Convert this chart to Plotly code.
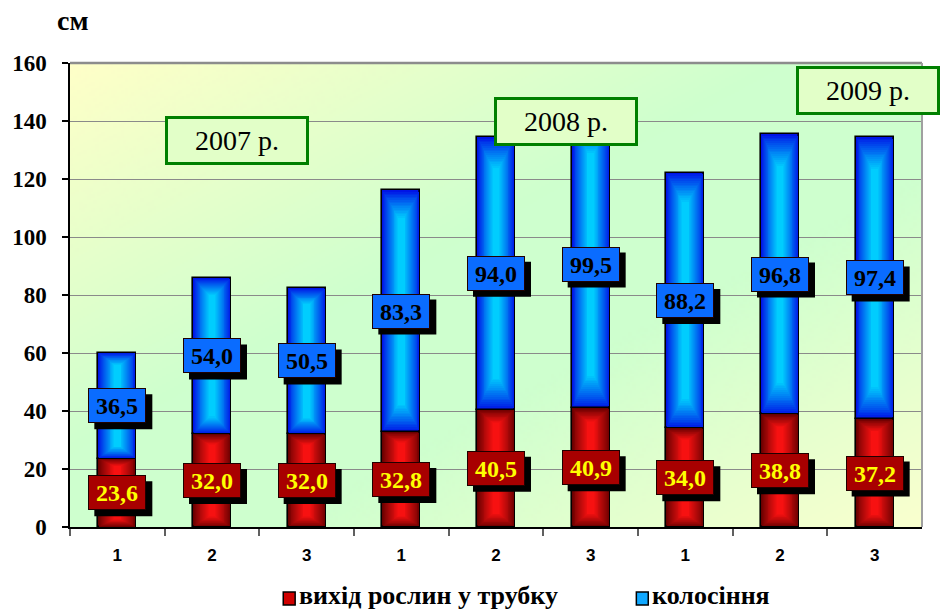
import base64
import struct
import zlib

import numpy as np
import plotly.graph_objects as go

# ---- data -------------------------------------------------------------
tick_labels = ["1", "2", "3", "1", "2", "3", "1", "2", "3"]
tube_stage = [23.6, 32.0, 32.0, 32.8, 40.5, 40.9, 34.0, 38.8, 37.2]      # вихід рослин у трубку
heading = [36.5, 54.0, 50.5, 83.3, 94.0, 99.5, 88.2, 96.8, 97.4]        # колосіння
years = ["2007 р.", "2008 р.", "2009 р."]
series_names = ["вихід рослин у трубку", "колосіння"]

x = list(range(len(tick_labels)))
heading_base = tube_stage

SERIF = "'Liberation Serif', 'Times New Roman', 'DejaVu Serif', serif"
SANS = "'Liberation Sans', Arial, sans-serif"

# ---- helpers ----------------------------------------------------------
def png_uri(rgb):
    h, w, _ = rgb.shape
    raw = b"".join(b"\x00" + rgb[r].tobytes() for r in range(h))

    def chunk(tag, data):
        return (struct.pack(">I", len(data)) + tag + data
                + struct.pack(">I", zlib.crc32(tag + data) & 0xFFFFFFFF))

    png = (b"\x89PNG\r\n\x1a\n"
           + chunk(b"IHDR", struct.pack(">IIBBBBB", w, h, 8, 2, 0, 0, 0))
           + chunk(b"IDAT", zlib.compress(raw, 9))
           + chunk(b"IEND", b""))
    return "data:image/png;base64," + base64.b64encode(png).decode()


def mix(c0, c1, t):
    return tuple(int(round(a + (b - a) * t)) for a, b in zip(c0, c1))


def hexc(c):
    return "#%02x%02x%02x" % c


# diagonal yellow -> green -> yellow background of the plot area
W, H = 430, 232
u = np.linspace(0, 1, W)[None, :]
v = np.linspace(0, 1, H)[:, None]
t = (u + v) / 2.0
yellow = np.array([255, 255, 200], float)
green = np.array([206, 255, 206], float)
yellow2 = np.array([250, 255, 206], float)
w1 = np.clip((t - 0.0) / 0.42, 0, 1)[..., None]
w2 = np.clip((t - 0.62) / 0.38, 0, 1)[..., None]
img = yellow * (1 - w1) + green * w1
img = img * (1 - w2) + yellow2 * w2
bg_uri = png_uri(np.clip(img, 0, 255).astype(np.uint8))

# ---- figure -----------------------------------------------------------
fig = go.Figure()

BAR_W = 0.40
N_LAYERS = 18
red_edge, red_mid = (105, 0, 0), (255, 18, 18)
blue_edge, blue_mid = (0, 20, 230), (0, 215, 255)


def add_cylinder(vals, bases, c_edge, c_mid):
    for k in range(N_LAYERS):
        f = k / N_LAYERS
        width = BAR_W * (1 - 0.88 * f)
        inset = [h * 0.12 * f for h in vals]
        fig.add_trace(go.Bar(
            x=x,
            y=[h - 2 * i for h, i in zip(vals, inset)],
            base=[b + i for b, i in zip(bases, inset)],
            width=width,
            marker=dict(color=hexc(mix(c_edge, c_mid, f ** 0.9)),
                        line=dict(color="black", width=1.6 if k == 0 else 0)),
            showlegend=False,
            hoverinfo="skip",
        ))


add_cylinder(tube_stage, [0] * len(x), red_edge, red_mid)
add_cylinder(heading, heading_base, blue_edge, blue_mid)

annotations = []
shapes = []

LW, LH = 58, 35   # value box size in px


def value_box(xi, yc, text, fill, font_color):
    # drop shadow
    shapes.append(dict(type="rect", xref="x", yref="y",
                       xsizemode="pixel", ysizemode="pixel",
                       xanchor=xi, yanchor=yc,
                       x0=-LW / 2 + 6, x1=LW / 2 + 6,
                       y0=-LH / 2 - 6, y1=LH / 2 - 6,
                       fillcolor="black", line=dict(width=0), layer="above"))
    annotations.append(dict(x=xi, y=yc, xref="x", yref="y", text="<b>%s</b>" % text,
                            showarrow=False, width=LW - 4, height=LH - 4,
                            xanchor="center", yanchor="middle",
                            bgcolor=fill, bordercolor="#200000", borderwidth=1,
                            borderpad=1,
                            font=dict(family=SERIF, size=24, color=font_color)))


for i in x:
    value_box(i, tube_stage[i] / 2, ("%.1f" % tube_stage[i]).replace(".", ","),
              "#a80000", "#ffff00")
    value_box(i, heading_base[i] + heading[i] / 2,
              ("%.1f" % heading[i]).replace(".", ","), "#0a6cff", "black")

# plot-area geometry in px (for paper-referenced decorations)
PX0, PX1, PY0, PY1 = 63, 922, 63, 527


def px(xp):
    return (xp - PX0) / (PX1 - PX0)


def py(yp):
    return (PY1 - yp) / (PY1 - PY0)


year_pos = [(231.5, 140), (563.5, 121), (868, 91)]
for label, (cx, cy) in zip(years, year_pos):
    annotations.append(dict(x=px(cx), y=py(cy), xref="paper", yref="paper",
                            xanchor="center", yanchor="middle",
                            text=label, showarrow=False, width=138, height=43,
                            bgcolor="#e2ffc8", bordercolor="#008000",
                            borderwidth=3, borderpad=0,
                            font=dict(family=SERIF, size=28, color="black")))

annotations.append(dict(x=px(66), y=py(20), xref="paper", yref="paper",
                        xanchor="center", yanchor="middle",
                        text="<b>см</b>", showarrow=False,
                        font=dict(family=SERIF, size=28, color="black")))

# legend
legend_items = [(series_names[0], 284, "#d00000"), (series_names[1], 640, "#10a8ff")]
for name, sx, col in legend_items:
    shapes.append(dict(type="rect", xref="paper", yref="paper",
                       x0=px(sx - 6), x1=px(sx + 6), y0=py(605), y1=py(592),
                       fillcolor=col, line=dict(color="black", width=1.5)))
    annotations.append(dict(x=px(sx + 8), y=py(595), xref="paper", yref="paper",
                            xanchor="left", yanchor="middle",
                            text="<b>%s</b>" % name, showarrow=False,
                            font=dict(family=SERIF, size=26, color="black")))

# top and right frame of the plot area
shapes.append(dict(type="line", xref="paper", yref="paper", x0=0, x1=1, y0=1, y1=1,
                   line=dict(color="#8c8c8c", width=2.5)))
shapes.append(dict(type="line", xref="paper", yref="paper", x0=1, x1=1, y0=0, y1=1,
                   line=dict(color="#a0a0a0", width=2)))

fig.update_layout(
    width=941, height=612,
    margin=dict(l=PX0, r=941 - PX1, t=PY0, b=612 - PY1),
    paper_bgcolor="white",
    plot_bgcolor="#e8ffd0",
    barmode="overlay",
    bargap=0,
    showlegend=False,
    annotations=annotations,
    shapes=shapes,
    images=[dict(source=bg_uri, xref="paper", yref="paper", x=0, y=1,
                 sizex=1, sizey=1, sizing="stretch", layer="below")],
    xaxis=dict(range=[-0.5, 8.5], tickmode="array", tickvals=x, ticktext=tick_labels,
               ticks="", showgrid=False, zeroline=False,
               showline=True, linecolor="black", linewidth=1.5,
               minor=dict(tickmode="array", tickvals=[i + 0.5 for i in x[:-1]] + [-0.5],
                          ticks="outside", ticklen=7, tickcolor="#606060", tickwidth=1.5,
                          showgrid=False),
               tickfont=dict(family=SANS, size=17, color="black", weight="bold"),
               ticklabelstandoff=12),
    yaxis=dict(range=[0, 160], dtick=20, tick0=0, ticks="outside", ticklen=6,
               tickcolor="black", tickwidth=1.5,
               showgrid=True, gridcolor="#8a8a8a", gridwidth=1.2,
               zeroline=False, showline=True, linecolor="black", linewidth=1.5,
               tickfont=dict(family=SERIF, size=23, color="black", weight="bold"),
               ticklabelstandoff=11),
)

fig.write_html("out.html")
